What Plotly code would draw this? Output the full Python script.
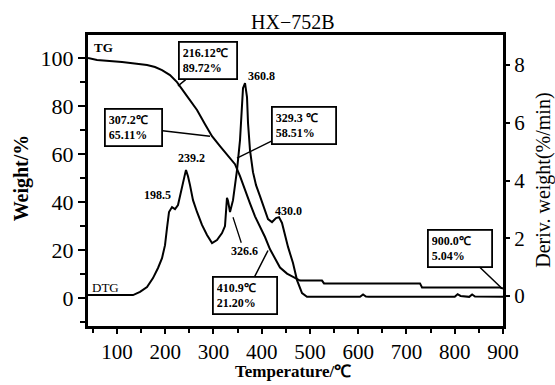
import plotly.graph_objects as go

# ---- data ----
tg_temp = [40, 58.7, 110.5, 162.3, 178.8, 193.4, 209.9, 224.4, 245.2, 265.9, 282.5, 297.0,
           313.5, 330.1, 344.6, 355.0, 365.4, 375.7, 386.1, 396.4, 406.8, 417.2, 427.5,
           437.9, 452.4, 469.0, 479.3, 524.9, 529.1, 728.0, 732.2, 893.8, 900]
tg_weight = [99.9, 99.1, 98.3, 97.0, 96.2, 94.9, 92.8, 89.9, 84.1, 78.3, 72.4, 67.4,
             63.3, 59.5, 55.8, 50.8, 44.9, 39.5, 34.1, 30.0, 25.5, 20.4, 16.3,
             12.8, 10.3, 8.3, 7.4, 7.4, 6.2, 6.2, 4.5, 4.5, 4.1]

dtg_temp = [40, 133.3, 147.8, 162.3, 174.7, 185.1, 193.4, 199.6, 203.7, 207.9, 214.1, 220.3,
            226.5, 230.7, 236.9, 241.0, 243.1, 247.2, 251.4, 257.6, 265.9, 276.2, 286.6,
            297.0, 307.3, 317.7, 323.9, 328.0, 330.1, 334.3, 340.5, 348.8, 355.0, 359.1,
            361.2, 365.4, 369.5, 371.6, 375.7, 381.9, 388.2, 396.4, 406.8, 413.0, 421.3,
            429.6, 435.8, 442.0, 454.5, 464.8, 473.1, 483.5, 493.8, 603.7, 610.0, 616.0,
            622.0, 800.0, 806.0, 812.0, 830.0, 836.0, 842.0, 900]
dtg_rate = [0.03, 0.03, 0.14, 0.31, 0.62, 0.97, 1.31, 1.76, 2.35, 2.91, 3.08, 3.01,
            3.15, 3.49, 4.01, 4.22, 4.36, 4.15, 3.84, 3.32, 2.91, 2.46, 2.11,
            1.83, 1.94, 2.18, 2.42, 3.40, 3.30, 2.91, 3.32, 4.36, 5.40, 6.54,
            7.20, 7.37, 6.89, 5.99, 5.05, 4.29, 3.84, 3.46, 2.98, 2.66, 2.56,
            2.70, 2.73, 2.53, 1.70, 1.14, 0.55, 0.10, -0.03, -0.03, 0.05, -0.02,
            -0.03, -0.03, 0.06, 0.0, -0.03, 0.05, -0.02, -0.03]

x_ticks = [100, 200, 300, 400, 500, 600, 700, 800, 900]
yl_ticks = [0, 20, 40, 60, 80, 100]
yr_ticks = [0, 2, 4, 6, 8]

peak_labels = ["198.5", "239.2", "360.8", "430.0"]
peak_pos = [(183.0, 42.8), (255.5, 58.3), (398.5, 92.4), (456.5, 36.2)]
# 326.6 has a short leader line from its label to the small peak
lead_label = "326.6"
lead_tip = (340.5, 33.7)
lead_off = (11, 34)

boxes = ["216.12℃<br>89.72%", "307.2℃<br>65.11%", "329.3 ℃<br>58.51%",
         "410.9℃<br>21.20%", "900.0℃<br>5.04%"]
box_tip = [(226.5, 88.3), (292.8, 67.4), (348.8, 58.3), (413.0, 19.9), (898.0, 4.1)]
box_off = [(30, -25), (-76, -9), (67, -33), (-23, 45), (-42, -40)]
box_w = [50, 49, 56, 56, 56]

SERIF = "Liberation Serif"

fig = go.Figure()
fig.add_trace(go.Scatter(x=tg_temp, y=tg_weight, mode="lines",
                         line=dict(color="black", width=2), showlegend=False))
fig.add_trace(go.Scatter(x=dtg_temp, y=dtg_rate, mode="lines", yaxis="y2",
                         line=dict(color="black", width=2), showlegend=False))

ann = []
for t, (x, y) in zip(peak_labels, peak_pos):
    ann.append(dict(x=x, y=y, xref="x", yref="y", text=t, showarrow=False,
                    font=dict(family=SERIF, size=12, color="black", weight="bold")))
ann.append(dict(x=lead_tip[0], y=lead_tip[1], xref="x", yref="y", text=lead_label,
                showarrow=True, arrowhead=0, arrowwidth=1.3, arrowcolor="black",
                ax=lead_off[0], ay=lead_off[1],
                font=dict(family=SERIF, size=12, color="black", weight="bold")))
for t, (x, y), (ax, ay), w in zip(boxes, box_tip, box_off, box_w):
    ann.append(dict(x=x, y=y, xref="x", yref="y", text=t, showarrow=True,
                    arrowhead=0, arrowwidth=1.5, arrowcolor="black", ax=ax, ay=ay,
                    align="left", width=w, bordercolor="black", borderwidth=1.8,
                    borderpad=3, bgcolor="white",
                    font=dict(family=SERIF, size=12, color="black", weight="bold")))
ann.append(dict(x=73, y=104.1, xref="x", yref="y", text="TG", showarrow=False,
                font=dict(family=SERIF, size=13, color="black", weight="bold")))
ann.append(dict(x=76, y=4.5, xref="x", yref="y", text="DTG", showarrow=False,
                font=dict(family=SERIF, size=13, color="black")))
# titles
ann.append(dict(x=0.494, y=1.045, xref="paper", yref="paper", text="HX−752B",
                xanchor="center", yanchor="middle",
                showarrow=False, font=dict(family=SERIF, size=20, color="black")))
ann.append(dict(x=-0.161, y=0.508, xref="paper", yref="paper", text="Weight/%",
                xanchor="center", yanchor="middle",
                textangle=-90, showarrow=False,
                font=dict(family=SERIF, size=20, color="black", weight="bold")))
ann.append(dict(x=1.097, y=0.50, xref="paper", yref="paper", text="Deriv. weight(%/min)",
                xanchor="center", yanchor="middle",
                textangle=-90, showarrow=False,
                font=dict(family=SERIF, size=20, color="black")))
ann.append(dict(x=0.494, y=-0.158, xref="paper", yref="paper", text="Temperature/℃",
                xanchor="center", yanchor="middle",
                showarrow=False, font=dict(family=SERIF, size=17, color="black", weight="bold")))

fig.update_layout(
    width=555, height=385,
    margin=dict(l=88, r=52, t=35, b=59),
    paper_bgcolor="white", plot_bgcolor="white",
    annotations=ann,
    xaxis=dict(range=[40, 900], tickvals=x_ticks, ticktext=[str(v) for v in x_ticks],
               showline=True, linewidth=3, linecolor="black", mirror=True,
               ticks="outside", ticklen=5, tickwidth=2, tickcolor="black",
               minor=dict(dtick=50, tick0=0, ticks="outside", ticklen=4, tickwidth=1.5,
                          tickcolor="black"),
               showgrid=False, zeroline=False,
               tickfont=dict(family=SERIF, size=21, color="black")),
    yaxis=dict(range=[-11.5, 109.5], tickvals=yl_ticks,
               showline=True, linewidth=3, linecolor="black",
               ticks="outside", ticklen=7, tickwidth=2, tickcolor="black",
               minor=dict(dtick=10, tick0=0, ticks="outside", ticklen=5, tickwidth=1.5,
                          tickcolor="black"),
               showgrid=False, zeroline=False,
               tickfont=dict(family=SERIF, size=22, color="black")),
    yaxis2=dict(range=[-1.04, 9.04], tickvals=yr_ticks, overlaying="y", side="right",
                showline=True, linewidth=3, linecolor="black",
                ticks="outside", ticklen=4, tickwidth=2, tickcolor="black",
                showgrid=False, zeroline=False,
                tickfont=dict(family=SERIF, size=21, color="black")),
)

fig.write_html("out.html")
